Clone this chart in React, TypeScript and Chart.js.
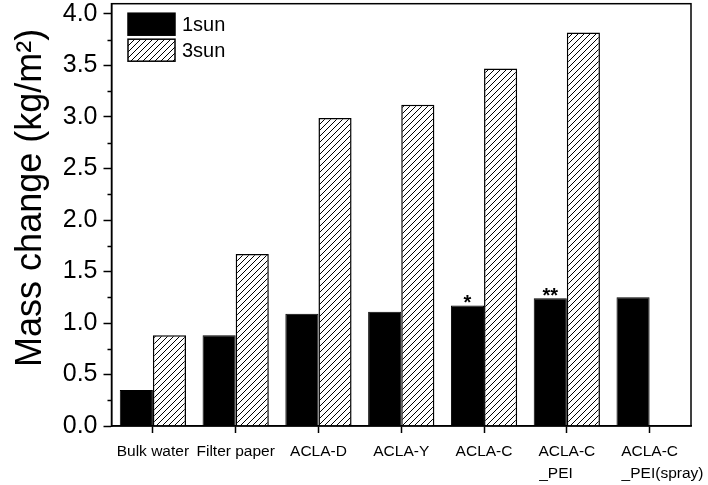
import React, { useEffect, useRef } from 'react';
import { Chart, registerables } from 'chart.js';

Chart.register(...registerables);

const categories: (string | string[])[] = [
  'Bulk water',
  'Filter paper',
  'ACLA-D',
  'ACLA-Y',
  'ACLA-C',
  ['ACLA-C', '_PEI     '],
  ['ACLA-C', '      _PEI(spray)'],
];
const seriesNames = ['1sun', '3sun'];
const sun1 = [0.35, 0.88, 1.09, 1.11, 1.17, 1.24, 1.25];
const sun3 = [0.88, 1.67, 2.99, 3.12, 3.47, 3.82, null];
const significance = ['', '', '', '', '*', '**', ''];
const yTicks = [0, 0.5, 1.0, 1.5, 2.0, 2.5, 3.0, 3.5, 4.0];
const yMinorTicks = [0.25, 0.75, 1.25, 1.75, 2.25, 2.75, 3.25, 3.75];
const yTitle = 'Mass change (kg/m²)';

const FONT = "'Liberation Sans', Arial, Helvetica, sans-serif";

function makeHatch(): CanvasPattern | string {
  const c = document.createElement('canvas');
  const s = 6;
  c.width = s;
  c.height = s;
  const g = c.getContext('2d');
  if (!g) return '#fff';
  g.fillStyle = '#fff';
  g.fillRect(0, 0, s, s);
  g.strokeStyle = '#000';
  g.lineWidth = 1;
  g.beginPath();
  g.moveTo(0, s);
  g.lineTo(s, 0);
  g.moveTo(-1, 1);
  g.lineTo(1, -1);
  g.moveTo(s - 1, s + 1);
  g.lineTo(s + 1, s - 1);
  g.stroke();
  const p = g.createPattern(c, 'repeat');
  return p || '#fff';
}

export default function App() {
  const ref = useRef<HTMLCanvasElement | null>(null);

  useEffect(() => {
    const canvas = ref.current;
    if (!canvas) return;
    const hatch = makeHatch();

    const decor = {
      id: 'decor',
      afterDraw(chart: any) {
        const { ctx, chartArea: a, scales } = chart;
        const y = scales.y;
        ctx.save();
        // frame
        ctx.strokeStyle = '#000';
        ctx.lineWidth = 1.5;
        ctx.strokeRect(a.left, a.top, a.right - a.left, a.bottom - a.top);
        // minor ticks
        ctx.beginPath();
        yMinorTicks.forEach((v) => {
          const py = Math.round(y.getPixelForValue(v)) + 0.5;
          ctx.moveTo(a.left - 4, py);
          ctx.lineTo(a.left, py);
        });
        ctx.stroke();
        // y axis title
        ctx.save();
        ctx.translate(41, (a.top + a.bottom) / 2 - 17);
        ctx.rotate(-Math.PI / 2);
        ctx.fillStyle = '#000';
        ctx.font = `36px ${FONT}`;
        ctx.textAlign = 'center';
        ctx.textBaseline = 'alphabetic';
        ctx.fillText(yTitle, 0, 0);
        ctx.restore();
        // significance marks
        const meta = chart.getDatasetMeta(0);
        ctx.fillStyle = '#000';
        ctx.font = `bold 20px ${FONT}`;
        ctx.textAlign = 'center';
        ctx.textBaseline = 'alphabetic';
        significance.forEach((s, i) => {
          if (!s) return;
          const bar = meta.data[i];
          ctx.fillText(s, bar.x, bar.y + 4);
        });
        // legend
        const lx = a.left + 16.5;
        const ly = a.top + 9.5;
        const bw = 47;
        const bh = 22;
        const fills = ['#000', hatch];
        seriesNames.forEach((name, i) => {
          const top = ly + i * 26;
          ctx.fillStyle = fills[i] as any;
          ctx.fillRect(lx, top, bw, bh);
          ctx.strokeStyle = '#000';
          ctx.lineWidth = 1.5;
          ctx.strokeRect(lx, top, bw, bh);
          ctx.fillStyle = '#000';
          ctx.font = `20px ${FONT}`;
          ctx.textAlign = 'left';
          ctx.textBaseline = 'middle';
          ctx.fillText(name, lx + bw + 7, top + bh / 2 + 1);
        });
        ctx.restore();
      },
    };

    const chart = new Chart(canvas, {
      type: 'bar',
      data: {
        labels: categories,
        datasets: [
          {
            label: seriesNames[0],
            data: sun1,
            backgroundColor: '#000',
            borderColor: '#000',
            borderWidth: 1,
            categoryPercentage: 0.8,
            barPercentage: 1.0,
          },
          {
            label: seriesNames[1],
            data: sun3 as any,
            backgroundColor: hatch as any,
            borderColor: '#000',
            borderWidth: 1.5,
            categoryPercentage: 0.8,
            barPercentage: 1.0,
          },
        ],
      },
      options: {
        responsive: false,
        animation: false,
        layout: { padding: { left: 0, right: 17, top: 3.7, bottom: 0 } },
        plugins: {
          legend: { display: false },
          tooltip: { enabled: false },
        },
        scales: {
          x: {
            type: 'category',
            offset: true,
            grid: {
              offset: false,
              drawOnChartArea: false,
              tickLength: 7,
              tickColor: '#000',
              tickWidth: 1.5,
            },
            border: { display: true, color: '#000', width: 1.5 },
            ticks: {
              color: '#000',
              font: { family: FONT, size: 15.5, lineHeight: 1.42 },
              maxRotation: 0,
              minRotation: 0,
              autoSkip: false,
              padding: 8,
            },
            afterFit: (s: any) => {
              s.height = 59;
              s.paddingLeft = 0;
              s.paddingRight = 0;
            },
          },
          y: {
            min: 0,
            max: 4.1,
            afterBuildTicks: (s: any) => {
              s.ticks = yTicks.map((v) => ({ value: v }));
            },
            grid: {
              drawOnChartArea: false,
              tickLength: 8,
              tickColor: '#000',
              tickWidth: 1.5,
            },
            border: { display: true, color: '#000', width: 1.5 },
            ticks: {
              color: '#000',
              font: { family: FONT, size: 25 },
              padding: 6,
              callback: (v: any) => Number(v).toFixed(1),
            },
            title: { display: false },
            afterFit: (s: any) => {
              s.width = 111.5;
              s.paddingTop = 0;
              s.paddingBottom = 0;
            },
          },
        },
      },
      plugins: [decor],
    });

    return () => chart.destroy();
  }, []);

  return (
    <div style={{ position: 'fixed', left: 0, top: 0, width: 708, height: 485, background: '#fff' }}>
      <canvas ref={ref} width={708} height={485} style={{ display: 'block', width: 708, height: 485 }} />
    </div>
  );
}
